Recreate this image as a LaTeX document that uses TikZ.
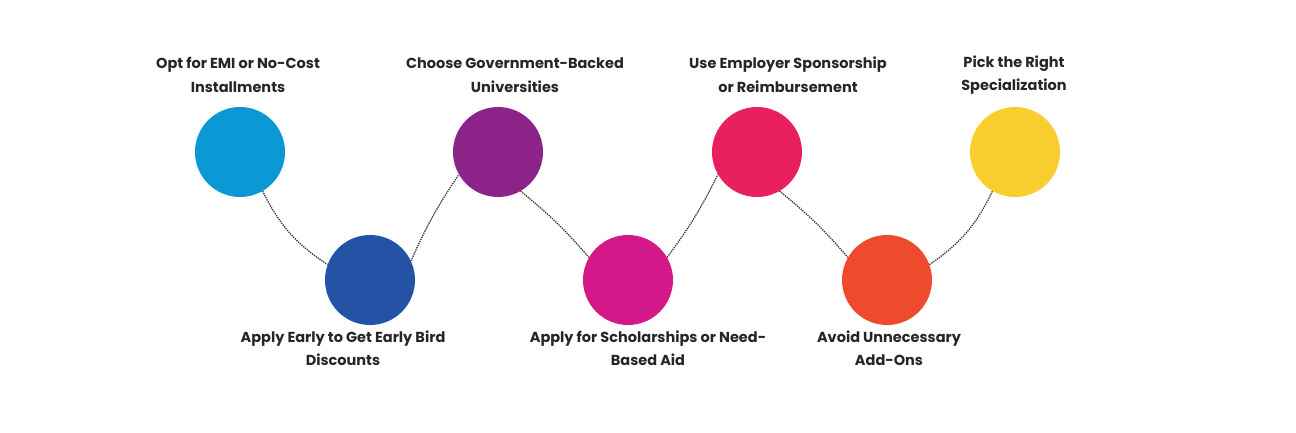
\documentclass[tikz,border=0pt]{standalone}
\usepackage{fontspec}
\setmainfont{Poppins}
\usetikzlibrary{positioning}
\definecolor{cblue}{HTML}{0B98D4}
\definecolor{cnavy}{HTML}{2453A6}
\definecolor{cpurple}{HTML}{8B2389}
\definecolor{cmagenta}{HTML}{D4188A}
\definecolor{cpink}{HTML}{E8205E}
\definecolor{corange}{HTML}{EE4B2E}
\definecolor{cyellow}{HTML}{F9CD2E}
\tikzset{
  dot/.style = {circle, minimum size=90pt, inner sep=0pt, fill=#1},
  tip/.style = {align=center, font=\bfseries\fontsize{14.5}{23.5}\selectfont, text=black!85},
  link/.style = {densely dotted, line width=1.3pt, black!80}
}
\begin{document}
\begin{tikzpicture}[x=1pt, y=-1pt]
  \useasboundingbox (0,0) rectangle (1296,433);

  \node[dot=cblue]    (s1) at (240,152) {};
  \node[dot=cnavy]    (s2) at (370,280) {};
  \node[dot=cpurple]  (s3) at (498,152) {};
  \node[dot=cmagenta] (s4) at (628,280) {};
  \node[dot=cpink]    (s5) at (757,152) {};
  \node[dot=corange]  (s6) at (887,280) {};
  \node[dot=cyellow]  (s7) at (1015,152) {};

  \node[tip] (t1) at (238,75)  {Opt for EMI or No-Cost\\Installments};
  \node[tip] (t2) at (343,348) {Apply Early to Get Early Bird\\Discounts};
  \node[tip] (t3) at (515,75)  {Choose Government-Backed\\Universities};
  \node[tip] (t4) at (648,348) {Apply for Scholarships or Need-\\Based Aid};
  \node[tip] (t5) at (788,75)  {Use Employer Sponsorship\\or Reimbursement};
  \node[tip] (t6) at (889,348) {Avoid Unnecessary\\Add-Ons};
  \node[tip] (t7) at (1014,75) {Pick the Right\\Specialization};

  \draw[link] (s1.-60) to[bend right=15] (s2.160);
  \draw[link] (s2.25)  to[bend left=5]   (s3.-150);
  \draw[link] (s3.-60) to[bend left=5]   (s4.150);
  \draw[link] (s4.30)  to[bend right=5]  (s5.-150);
  \draw[link] (s5.-60) to[bend left=5]   (s6.150);
  \draw[link] (s6.20)  to[bend right=15] (s7.-120);
\end{tikzpicture}
\end{document}
